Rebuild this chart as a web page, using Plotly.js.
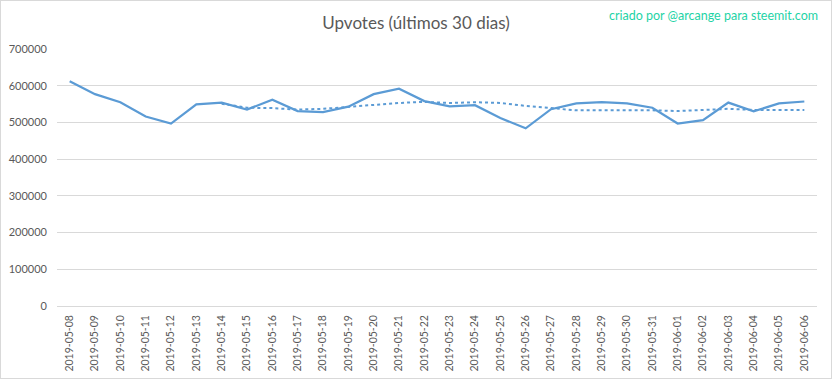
<!DOCTYPE html>
<html>
<head>
<meta charset="utf-8">
<script src="https://cdn.plot.ly/plotly-3.0.1.min.js"></script>
<style>
  html, body { margin: 0; padding: 0; background: #fff; }
  #wrap { position: relative; width: 832px; height: 379px; }
  #chart { position: absolute; left: 0; top: 0; width: 832px; height: 379px; }
  #frame { position: absolute; left: 0; top: 0; width: 830px; height: 377px; border: 1px solid #D9D9D9; pointer-events: none; }
</style>
</head>
<body>
<div id="wrap"><div id="chart"></div><div id="frame"></div></div>
<script>
const dates = ["2019-05-08","2019-05-09","2019-05-10","2019-05-11","2019-05-12","2019-05-13","2019-05-14","2019-05-15","2019-05-16","2019-05-17","2019-05-18","2019-05-19","2019-05-20","2019-05-21","2019-05-22","2019-05-23","2019-05-24","2019-05-25","2019-05-26","2019-05-27","2019-05-28","2019-05-29","2019-05-30","2019-05-31","2019-06-01","2019-06-02","2019-06-03","2019-06-04","2019-06-05","2019-06-06"];
const upvotes = [612000,577000,555000,516000,497000,549000,554000,535000,562000,531000,528000,543000,577000,592000,558000,544000,547000,512000,484000,536000,552000,555000,552000,540000,497000,506000,554000,530000,552000,557000];
const movingAvg = [null,null,null,null,null,null,551000,540000,539000,535000,537000,543000,547000,553000,556000,553000,555000,553000,545000,539000,533000,533000,534000,533000,531000,534000,537000,534000,533000,534000];
const yTicks = [0,100000,200000,300000,400000,500000,600000,700000];

const lineColor = '#5B9BD5';
const font = 'Lato, "Open Sans", sans-serif';

const traces = [
  { x: dates, y: upvotes, type: 'scatter', mode: 'lines', line: { color: lineColor, width: 2.25 }, hoverinfo: 'x+y' },
  { x: dates, y: movingAvg, type: 'scatter', mode: 'lines', line: { color: lineColor, width: 2, dash: 'dot' }, connectgaps: false, hoverinfo: 'x+y' }
];

const layout = {
  width: 832, height: 379,
  margin: { l: 57, r: 15, t: 49, b: 73 },
  paper_bgcolor: 'rgba(0,0,0,0)',
  plot_bgcolor: 'rgba(0,0,0,0)',
  showlegend: false,
  font: { family: font, color: '#595959' },
  title: { text: 'Upvotes (últimos 30 dias)', font: { family: font, size: 17, color: '#595959' }, x: 0.5, xanchor: 'center', y: 0.94, yanchor: 'middle', yref: 'container' },
  xaxis: {
    type: 'category', range: [-0.5, 29.5],
    tickangle: -90, tickfont: { family: font, size: 10.5, color: '#595959' },
    showgrid: false, zeroline: false, showline: false, ticks: '',
    ticklabelstandoff: 6, fixedrange: true
  },
  yaxis: {
    range: [0, 700000], tickvals: yTicks, ticktext: yTicks.map(String),
    tickfont: { family: font, size: 11, color: '#595959' },
    showgrid: true, gridcolor: '#D9D9D9', gridwidth: 1,
    zeroline: true, zerolinecolor: '#D9D9D9', zerolinewidth: 1,
    showline: false, ticks: '', ticklabelstandoff: 9, fixedrange: true
  },
  annotations: [{
    text: 'criado por @arcange para steemit.com', xref: 'paper', yref: 'paper',
    x: (820 - 57) / 760, y: (306 - 15) / 257, xanchor: 'right', yanchor: 'middle',
    showarrow: false, font: { family: font, size: 12.5, color: '#1ED3A6' }
  }]
};

Plotly.newPlot('chart', traces, layout, { displayModeBar: false, staticPlot: true });
</script>
</body>
</html>
